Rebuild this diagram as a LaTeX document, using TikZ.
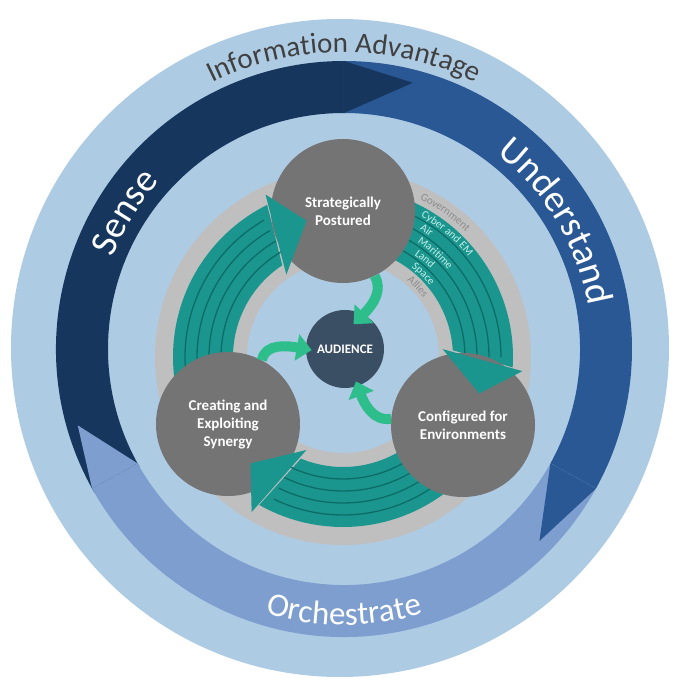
\documentclass[tikz,border=0pt]{standalone}
\usepackage{fontspec}
\setmainfont{Carlito}
\usetikzlibrary{arrows.meta,decorations.text}

\definecolor{skyback}{HTML}{AECBE4}
\definecolor{sensecol}{HTML}{17365D}
\definecolor{undercol}{HTML}{295894}
\definecolor{orchcol}{HTML}{7D9ECE}
\definecolor{ringgray}{HTML}{BFBFBF}
\definecolor{domteal}{HTML}{1A968F}
\definecolor{laneline}{HTML}{0E6C67}
\definecolor{discgray}{HTML}{747474}
\definecolor{hubblue}{HTML}{3A4E64}
\definecolor{flowgreen}{HTML}{2EBE8C}
\definecolor{lanetext}{HTML}{C4EEE8}
\definecolor{ringtext}{HTML}{8C8C8C}
\definecolor{titletext}{HTML}{404040}

\begin{document}
\begin{tikzpicture}[x=1pt,y=1pt,
  disc/.style={circle,fill=discgray,text=white,inner sep=0pt,minimum size=144pt,
    align=center,font=\fontsize{15}{18}\selectfont\bfseries},
  hub/.style={circle,fill=hubblue,text=white,inner sep=0pt,minimum size=78pt,
    font=\fontsize{13}{13}\selectfont\bfseries},
  flow/.style={draw=flowgreen,line width=10pt,-{Triangle[length=15pt,width=26pt]}},
  lane/.style={draw=laneline,line width=1.3pt}]
  \useasboundingbox (-343,-329) rectangle (333,357);
  \fill[skyback] (-3,9) circle[radius=329];

  \begin{scope}[shift={(1,8)}]
    \fill[sensecol] (210:288) arc[start angle=210,end angle=90,radius=288]
      -- (90:236) arc[start angle=90,end angle=210,radius=236] -- cycle;
    \fill[undercol] (90:288) arc[start angle=90,end angle=-29,radius=288]
      -- (-29:236) arc[start angle=-29,end angle=90,radius=236] -- cycle;
    \fill[orchcol] (-29:288) arc[start angle=-29,end angle=-151,radius=288]
      -- (-151:236) arc[start angle=-151,end angle=-29,radius=236] -- cycle;
    \fill[sensecol] (90:288) -- (75.5:275) -- (90:236) -- cycle;
    \fill[undercol] (-29:288) -- (-44.5:274) -- (-29:236) -- cycle;
    \fill[orchcol] (-151:288) -- (-164:277) -- (-151:236) -- cycle;
    \path[decorate,decoration={text along path,text align=center,
      text={|\fontsize{29}{29}\selectfont\color{titletext}|Information Advantage}}]
      (140:297) arc[start angle=140,end angle=40,radius=297];
    \path[decorate,decoration={text along path,text align=center,
      text={|\fontsize{38}{38}\selectfont\color{white}|Sense}}]
      (183:249) arc[start angle=183,end angle=113,radius=249];
    \path[decorate,decoration={text along path,text align=center,
      text={|\fontsize{38}{38}\selectfont\color{white}|Understand}}]
      (66:248) arc[start angle=66,end angle=-4,radius=248];
    \path[decorate,decoration={text along path,text align=center,
      text={|\fontsize{33}{33}\selectfont\color{white}|Orchestrate}}]
      (235:276) arc[start angle=235,end angle=305,radius=276];
  \end{scope}

  \fill[ringgray,even odd rule] (0,0) circle[radius=188] (0,0) circle[radius=96];
  \foreach \s/\b in {215/120,80/0,-20/-116} {
    \fill[domteal] (\s:170) arc[start angle=\s,end angle=\b-3.5,radius=170]
      -- ({\b+3.5}:110) arc[start angle=\b+3.5,end angle=\s,radius=110] -- cycle;
    \foreach \r in {122,134,146,158}
      \draw[lane] (\s:\r) arc[start angle=\s,end angle=\b,radius=\r];
  }
  \foreach \lbl/\r/\a/\c in {Government/175.5/64/ringtext,Cyber and EM/160.5/61/lanetext,
      Air/148.5/59/lanetext,Maritime/136.5/57/lanetext,Land/124.5/55/lanetext,
      Space/112.5/52.5/lanetext,Allies/99.5/50/ringtext}
    \path[decorate,decoration={text along path,text align=left,
      text/.expanded={|\noexpand\fontsize{11}{11}\noexpand\selectfont\noexpand\color{\c}|\lbl}}]
      (\a:\r) arc[start angle=\a,end angle=\a-60,radius=\r];

  \node[hub] (audience) at (2,8) {AUDIENCE};
  \node[disc] (postured) at (0,146) {Strategically\\Postured};
  \node[disc] (synergy) at (-115,-67) {Creating and\\Exploiting\\Synergy};
  \node[disc] (configured) at (120,-68) {Configured for\\Environments};

  \foreach \b in {120,0,-116}
    \fill[domteal] ({\b+4.5}:100) -- ({\b-4.5}:180) -- ({\b-15}:141) -- cycle;

  \draw[flow,shorten >=-14pt] (postured.-64) to[out=-60,in=45] (audience.62);
  \draw[flow,shorten >=-6pt] (synergy.62) to[out=80,in=170] (audience.180);
  \draw[flow,shorten >=-5pt] (configured.175) to[out=190,in=-70] (audience.-71);
\end{tikzpicture}
\end{document}
